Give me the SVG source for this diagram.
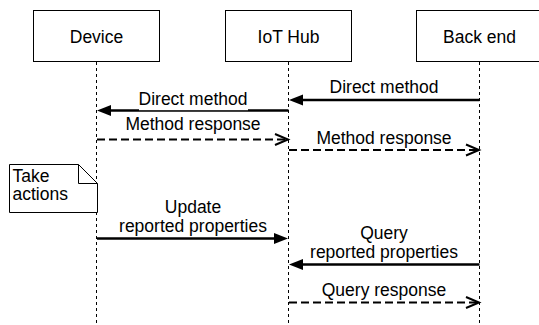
<svg xmlns="http://www.w3.org/2000/svg" width="539" height="325" viewBox="0 0 539 325">
<style>
text{font-family:"Liberation Sans",Arial,sans-serif;font-size:17.5px;fill:#000}
.c{text-anchor:middle}
.box{fill:#fff;stroke:#000;stroke-width:1}
.life{stroke:#000;stroke-width:1;stroke-dasharray:3 3;fill:none}
.sol{stroke:#000;stroke-width:2.5;fill:none}
.dsh{stroke:#000;stroke-width:2;stroke-dasharray:8 4;fill:none}
.head{fill:#000;stroke:none}
.open{fill:none;stroke:#000;stroke-width:2}
</style>
<rect width="539" height="325" fill="#fff"/>
<g id="lifelines">
<line class="life" x1="96.5" y1="62" x2="96.5" y2="325"/>
<line class="life" x1="288.5" y1="62" x2="288.5" y2="325"/>
<line class="life" x1="479.5" y1="62" x2="479.5" y2="325"/>
</g>
<g id="device"><rect class="box" x="33.5" y="10.5" width="126" height="51"/><text class="c" x="96.5" y="43.3">Device</text></g>
<g id="iothub"><rect class="box" x="225.5" y="10.5" width="126" height="51"/><text class="c" x="288.5" y="43.3">IoT Hub</text></g>
<g id="backend"><rect class="box" x="416.5" y="10.5" width="126" height="51"/><text class="c" x="479.5" y="43.3">Back end</text></g>
<g id="note">
<path d="M9.5,164.5 H78.5 L97.5,183.5 V212.5 H9.5 Z" fill="#fff" stroke="#000" stroke-width="1"/>
<path d="M78.5,164.5 V183.5 H97.5" fill="none" stroke="#000" stroke-width="1"/>
<text x="12.5" y="181.7">Take</text>
<text x="12.5" y="200">actions</text>
</g>
<g id="connectors">
<line class="sol" x1="479.5" y1="100" x2="300" y2="100"/>
<polygon class="head" points="289,100 303,94.5 303,105.5"/>
<line class="sol" x1="288.5" y1="110.5" x2="108" y2="110.5"/>
<polygon class="head" points="97,110.5 111,105 111,116"/>
<line class="dsh" x1="97" y1="139.5" x2="286" y2="139.5"/>
<polyline class="open" points="275,134 288,139.5 275,145"/>
<line class="dsh" x1="289" y1="150" x2="477" y2="150"/>
<polyline class="open" points="466,144.5 479,150 466,155.5"/>
<line class="sol" x1="97" y1="238.5" x2="277" y2="238.5"/>
<polygon class="head" points="288,238.5 274,233 274,244"/>
<line class="sol" x1="479.5" y1="264.5" x2="300" y2="264.5"/>
<polygon class="head" points="289,264.5 303,259 303,270"/>
<line class="dsh" x1="289" y1="302.5" x2="477" y2="302.5"/>
<polyline class="open" points="466,297 479,302.5 466,308"/>
</g>
<g id="labels">
<text class="c" x="384" y="92.7">Direct method</text>
<rect x="139" y="92" width="109" height="18.2" fill="#fff"/>
<text class="c" x="193" y="105">Direct method</text>
<text class="c" x="193" y="130">Method response</text>
<text class="c" x="384" y="143.5">Method response</text>
<text class="c" x="193" y="213.3">Update</text>
<text class="c" x="193" y="231.7">reported properties</text>
<text class="c" x="384" y="239.3">Query</text>
<text class="c" x="384" y="257.7">reported properties</text>
<text class="c" x="384" y="296">Query response</text>
</g>
</svg>
